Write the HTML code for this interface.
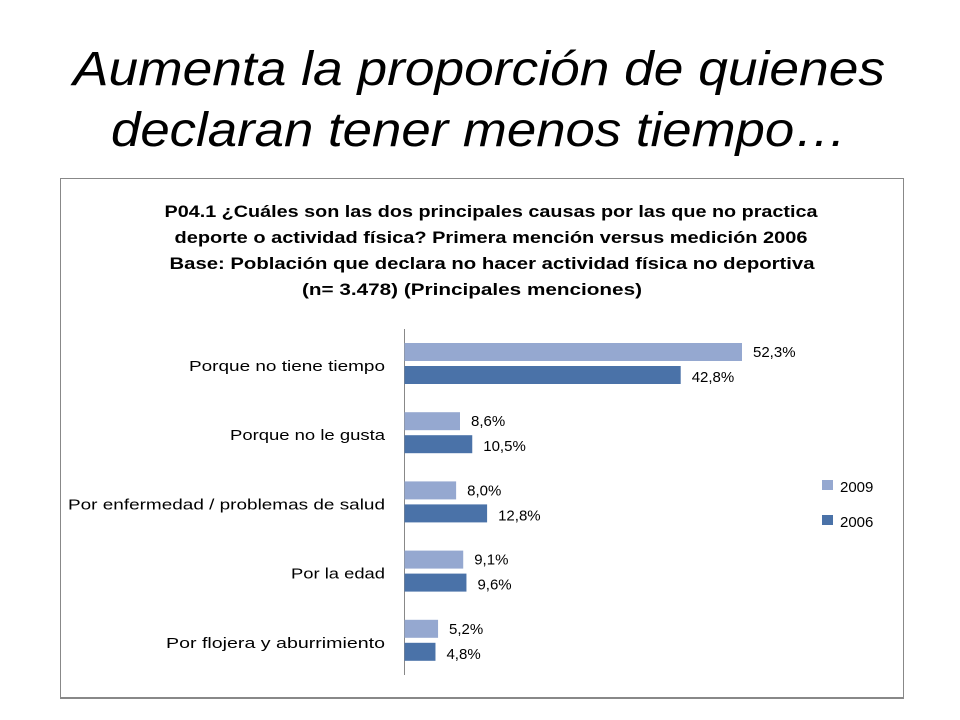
<!DOCTYPE html>
<html><head><meta charset="utf-8"><style>
html,body{margin:0;padding:0;background:#fff}
svg{display:block;font-family:"Liberation Sans",sans-serif}
</style></head><body>
<svg id="c" width="960" height="720" viewBox="0 0 960 720">
<text x="479" y="85" font-size="48" font-style="italic" text-anchor="middle" textLength="812" lengthAdjust="spacingAndGlyphs" fill="#000">Aumenta la proporción de quienes</text>
<text x="479" y="146" font-size="48" font-style="italic" text-anchor="middle" textLength="736" lengthAdjust="spacingAndGlyphs" fill="#000">declaran tener menos tiempo…</text>
<rect x="60.5" y="178.5" width="843" height="520" fill="#fff" stroke="#888" stroke-width="1"/>
<line x1="60" y1="698" x2="904" y2="698" stroke="#888" stroke-width="2"/>
<g font-weight="bold" font-size="17" text-anchor="middle" fill="#000">
<text x="491" y="217" textLength="653" lengthAdjust="spacingAndGlyphs">P04.1 ¿Cuáles son las dos principales causas por las que no practica</text>
<text x="491" y="243" textLength="633" lengthAdjust="spacingAndGlyphs">deporte o actividad física? Primera mención versus medición 2006</text>
<text x="492" y="269" textLength="645" lengthAdjust="spacingAndGlyphs">Base: Población que declara no hacer actividad física no deportiva</text>
<text x="472" y="295" textLength="340" lengthAdjust="spacingAndGlyphs">(n= 3.478)  (Principales menciones)</text>
</g>
<line x1="404.5" y1="329" x2="404.5" y2="675" stroke="#888" stroke-width="1"/>
<g id="bars"></g>
<rect x="822" y="480" width="11" height="10" fill="#95A8D0"/>
<text x="840" y="492" font-size="15">2009</text>
<rect x="822" y="515" width="11" height="10" fill="#4A72A8"/>
<text x="840" y="527" font-size="15">2006</text>
</svg>
<script>
const categories=["Porque no tiene tiempo","Porque no le gusta","Por enfermedad / problemas de salud","Por la edad","Por flojera y aburrimiento"];
const values2009=[52.3,8.6,8.0,9.1,5.2];
const values2006=[42.8,10.5,12.8,9.6,4.8];
const labels2009=["52,3%","8,6%","8,0%","9,1%","5,2%"];
const labels2006=["42,8%","10,5%","12,8%","9,6%","4,8%"];
const labelWidths=[196,155,317,94,219];
const ns="http://www.w3.org/2000/svg";
const g=document.getElementById("bars");
const x0=404.5, scale=(742-404.5)/52.3;
function xs(v){return x0+v*scale;}
function ys(i){return 343+i*69.2;}
function mk(tag,attrs){const e=document.createElementNS(ns,tag);for(const k in attrs)e.setAttribute(k,attrs[k]);g.appendChild(e);return e;}
categories.forEach((c,i)=>{
  const y=ys(i);
  const t=mk("text",{x:385,y:y+28,"font-size":15,"text-anchor":"end",textLength:labelWidths[i],lengthAdjust:"spacingAndGlyphs"});
  t.textContent=c;
  
  
  const b1=mk("rect",{x:x0,y:y,width:xs(values2009[i])-x0,height:18,fill:"#95A8D0"});
  
  
  const b2=mk("rect",{x:x0,y:y+23,width:xs(values2006[i])-x0,height:18,fill:"#4A72A8"});
  
  
  const l1=mk("text",{x:xs(values2009[i])+11,y:y+14,"font-size":15});
  l1.textContent=labels2009[i];
  
  
  const l2=mk("text",{x:xs(values2006[i])+11,y:y+39,"font-size":15});
  l2.textContent=labels2006[i];
  
  
});
</script>
</body></html>
